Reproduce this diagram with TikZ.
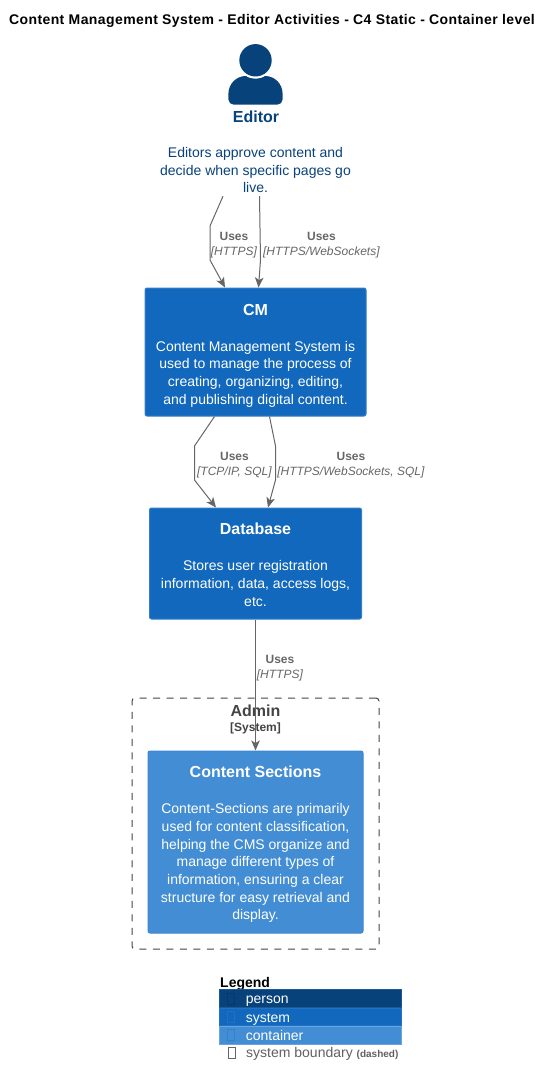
\documentclass[tikz,border=0pt]{standalone}
\usepackage{fontspec}
\setmainfont{Liberation Sans}
\usetikzlibrary{positioning}
\usetikzlibrary{arrows.meta}
\definecolor{personc}{HTML}{08427B}
\definecolor{systemc}{HTML}{1168BD}
\definecolor{containerc}{HTML}{438DD5}
\definecolor{edgec}{HTML}{666666}
\definecolor{boundc}{HTML}{444444}
\tikzset{
    mybox/.style = {rectangle, rounded corners=2pt, line width=1pt, inner sep=0pt, align=center, text=white, font=\fontsize{14}{17.7}\selectfont},
    mysystem/.style = {mybox, draw=systemc!85!white, fill=systemc},
    mycontainer/.style = {mybox, draw=containerc!85!systemc, fill=containerc},
    mybound/.style = {draw=boundc, line width=1pt, dash pattern=on 7pt off 6.5pt, rounded corners=3pt},
    edgen/.style = {-{Stealth[length=10pt,width=8.5pt,inset=2.5pt]}, line width=1pt, edgec},
    edgel/.style = {inner sep=0pt, align=center, text=edgec, font=\fontsize{12}{15}\selectfont},
    legendbox/.style = {rectangle, minimum width=182pt, minimum height=17.6pt, inner sep=0pt, line width=.8pt},
    legendtext/.style = {inner sep=0pt, text=white, text height=10pt, text depth=3pt, yshift=-2pt, font=\fontsize{14}{17}\selectfont},
    legendmark/.style = {rectangle, minimum width=7pt, minimum height=11pt, inner sep=0pt, line width=.8pt}
}
\newcommand{\Title}[2]{{\bfseries\fontsize{16}{20}\selectfont\rule{0pt}{#1pt}#2}}
\newcommand{\Rel}[1]{\textbf{Uses}\\\textit{[#1]}}

\begin{document}
\begin{tikzpicture}[x=1pt,y=-1pt]
\useasboundingbox (0,0) rectangle (551,1086);
\node[inner sep=0pt, font=\bfseries\fontsize{14}{17}\selectfont\addfontfeature{LetterSpace=2.9}] at (272,21) (title) {Content Management System - Editor Activities - C4 Static - Container level};
%
\fill[personc] (255.5,60.3) circle (16.2);
\fill[personc] (228.4,99.5) -- (228.4,94) .. controls (228.4,84) and (236,76) .. (246,76) .. controls (250,79.5) and (261,79.5) .. (265,76) .. controls (275,76) and (282.6,84) .. (282.6,94) -- (282.6,99.5) .. controls (282.6,102.5) and (280,104.6) .. (277.5,104.6) -- (233.5,104.6) .. controls (231,104.6) and (228.4,102.5) .. (228.4,99.5) -- cycle;
\node[inner sep=0pt, text=personc, font=\bfseries\fontsize{16}{20}\selectfont] at (256,117) (editor) {Editor};
\node[inner sep=0pt, align=center, text=personc, font=\fontsize{14}{17.7}\selectfont, minimum height=52pt] at (255.5,170) (desc) {Editors approve content and\\decide when specific pages go\\live.};
%
\node[mysystem, minimum width=221pt, minimum height=128pt] at (255.5,352) (cm) {\Title{18}{CM}\\[18.3pt]Content Management System is\\used to manage the process of\\creating, organizing, editing,\\and publishing digital content.};
\node[mysystem, minimum width=212pt, minimum height=111pt] at (255.5,563.5) (db) {\Title{14.5}{Database}\\[18.3pt]Stores user registration\\information, data, access logs,\\etc.};
\node[mybound, minimum width=247pt, minimum height=251pt] at (255.5,823.5) (admin) {};
\node[inner sep=0pt, align=center, text=boundc] at (255.5,719.5) (adminl) {{\bfseries\fontsize{16}{17}\selectfont Admin}\\[3pt]{\bfseries\fontsize{12}{14}\selectfont [System]}};
\node[mycontainer, minimum width=215pt, minimum height=182pt] at (255.5,842) (content) {\Title{16.5}{Content Sections}\\[18.3pt]Content-Sections are primarily\\used for content classification,\\helping the CMS organize and\\manage different types of\\information, ensuring a clear\\structure for easy retrieval and\\display.};
%
\coordinate (k1) at (210,226);
\coordinate (k2) at (210,260);
\coordinate (k3) at (194.5,446);
\coordinate (k4) at (194.5,480);
\coordinate (k5) at (275.5,446);
\coordinate (k6) at (275.5,480);
\draw[edgen] (desc.south -| 223,0) -- (k1) -- (k2) -- (cm.north -| 225,0);
\draw[edgen] (desc.south -| 259.5,0) -- (260.5,260) -- (cm.north -| 258.5,0);
\draw[edgen] (cm.south -| 214.5,0) -- (k3) -- (k4) -- (db.north -| 216,0);
\draw[edgen] (cm.south -| 269.5,0) -- (k5) -- (k6) -- (db.north -| 268,0);
\draw[edgen] (db) -- (content);
%
\node[edgel] at (234,245.5) (l1) {\Rel{HTTPS}};
\node[edgel] at (321.5,245.5) (l2) {\Rel{HTTPS/WebSockets}};
\node[edgel] at (234.5,465.5) (l3) {\Rel{TCP/IP, SQL}};
\node[edgel] at (351,465.5) (l4) {\Rel{HTTPS/WebSockets, SQL}};
\node[edgel] at (280,668.5) (l5) {\Rel{HTTPS}};
%
\node[inner sep=0pt, font=\bfseries\fontsize{14}{17}\selectfont, anchor=west] at (220,983.5) (legend) {Legend};
\node[legendbox, fill=personc, draw=personc!70!containerc] at (310.5,998.4) (lperson) {};
\node[legendbox, fill=systemc, draw=systemc!70!containerc, below=0pt of lperson] (lsystem) {};
\node[legendbox, fill=containerc, draw=containerc!80!white, below=0pt of lsystem] (lcontainer) {};
\node[legendmark, draw=personc!85!black, right=8pt of lperson.west] (mperson) {};
\node[legendmark, draw=systemc!75!containerc, right=8pt of lsystem.west] (msystem) {};
\node[legendmark, draw=containerc!70!systemc, right=8pt of lcontainer.west] (mcontainer) {};
\node[legendtext, right=26.5pt of lperson.west] (tperson) {person};
\node[legendtext, right=26.5pt of lsystem.west] (tsystem) {system};
\node[legendtext, right=26.5pt of lcontainer.west] (tcontainer) {container};
\node[legendmark, draw=edgec, anchor=west] at (228,1052.5) (mbound) {};
\node[legendtext, anchor=west, text=boundc!85!white] at (246,1052) (tbound) {system boundary {\fontsize{10}{12}\selectfont\bfseries (dashed)}};
\end{tikzpicture}
\end{document}
